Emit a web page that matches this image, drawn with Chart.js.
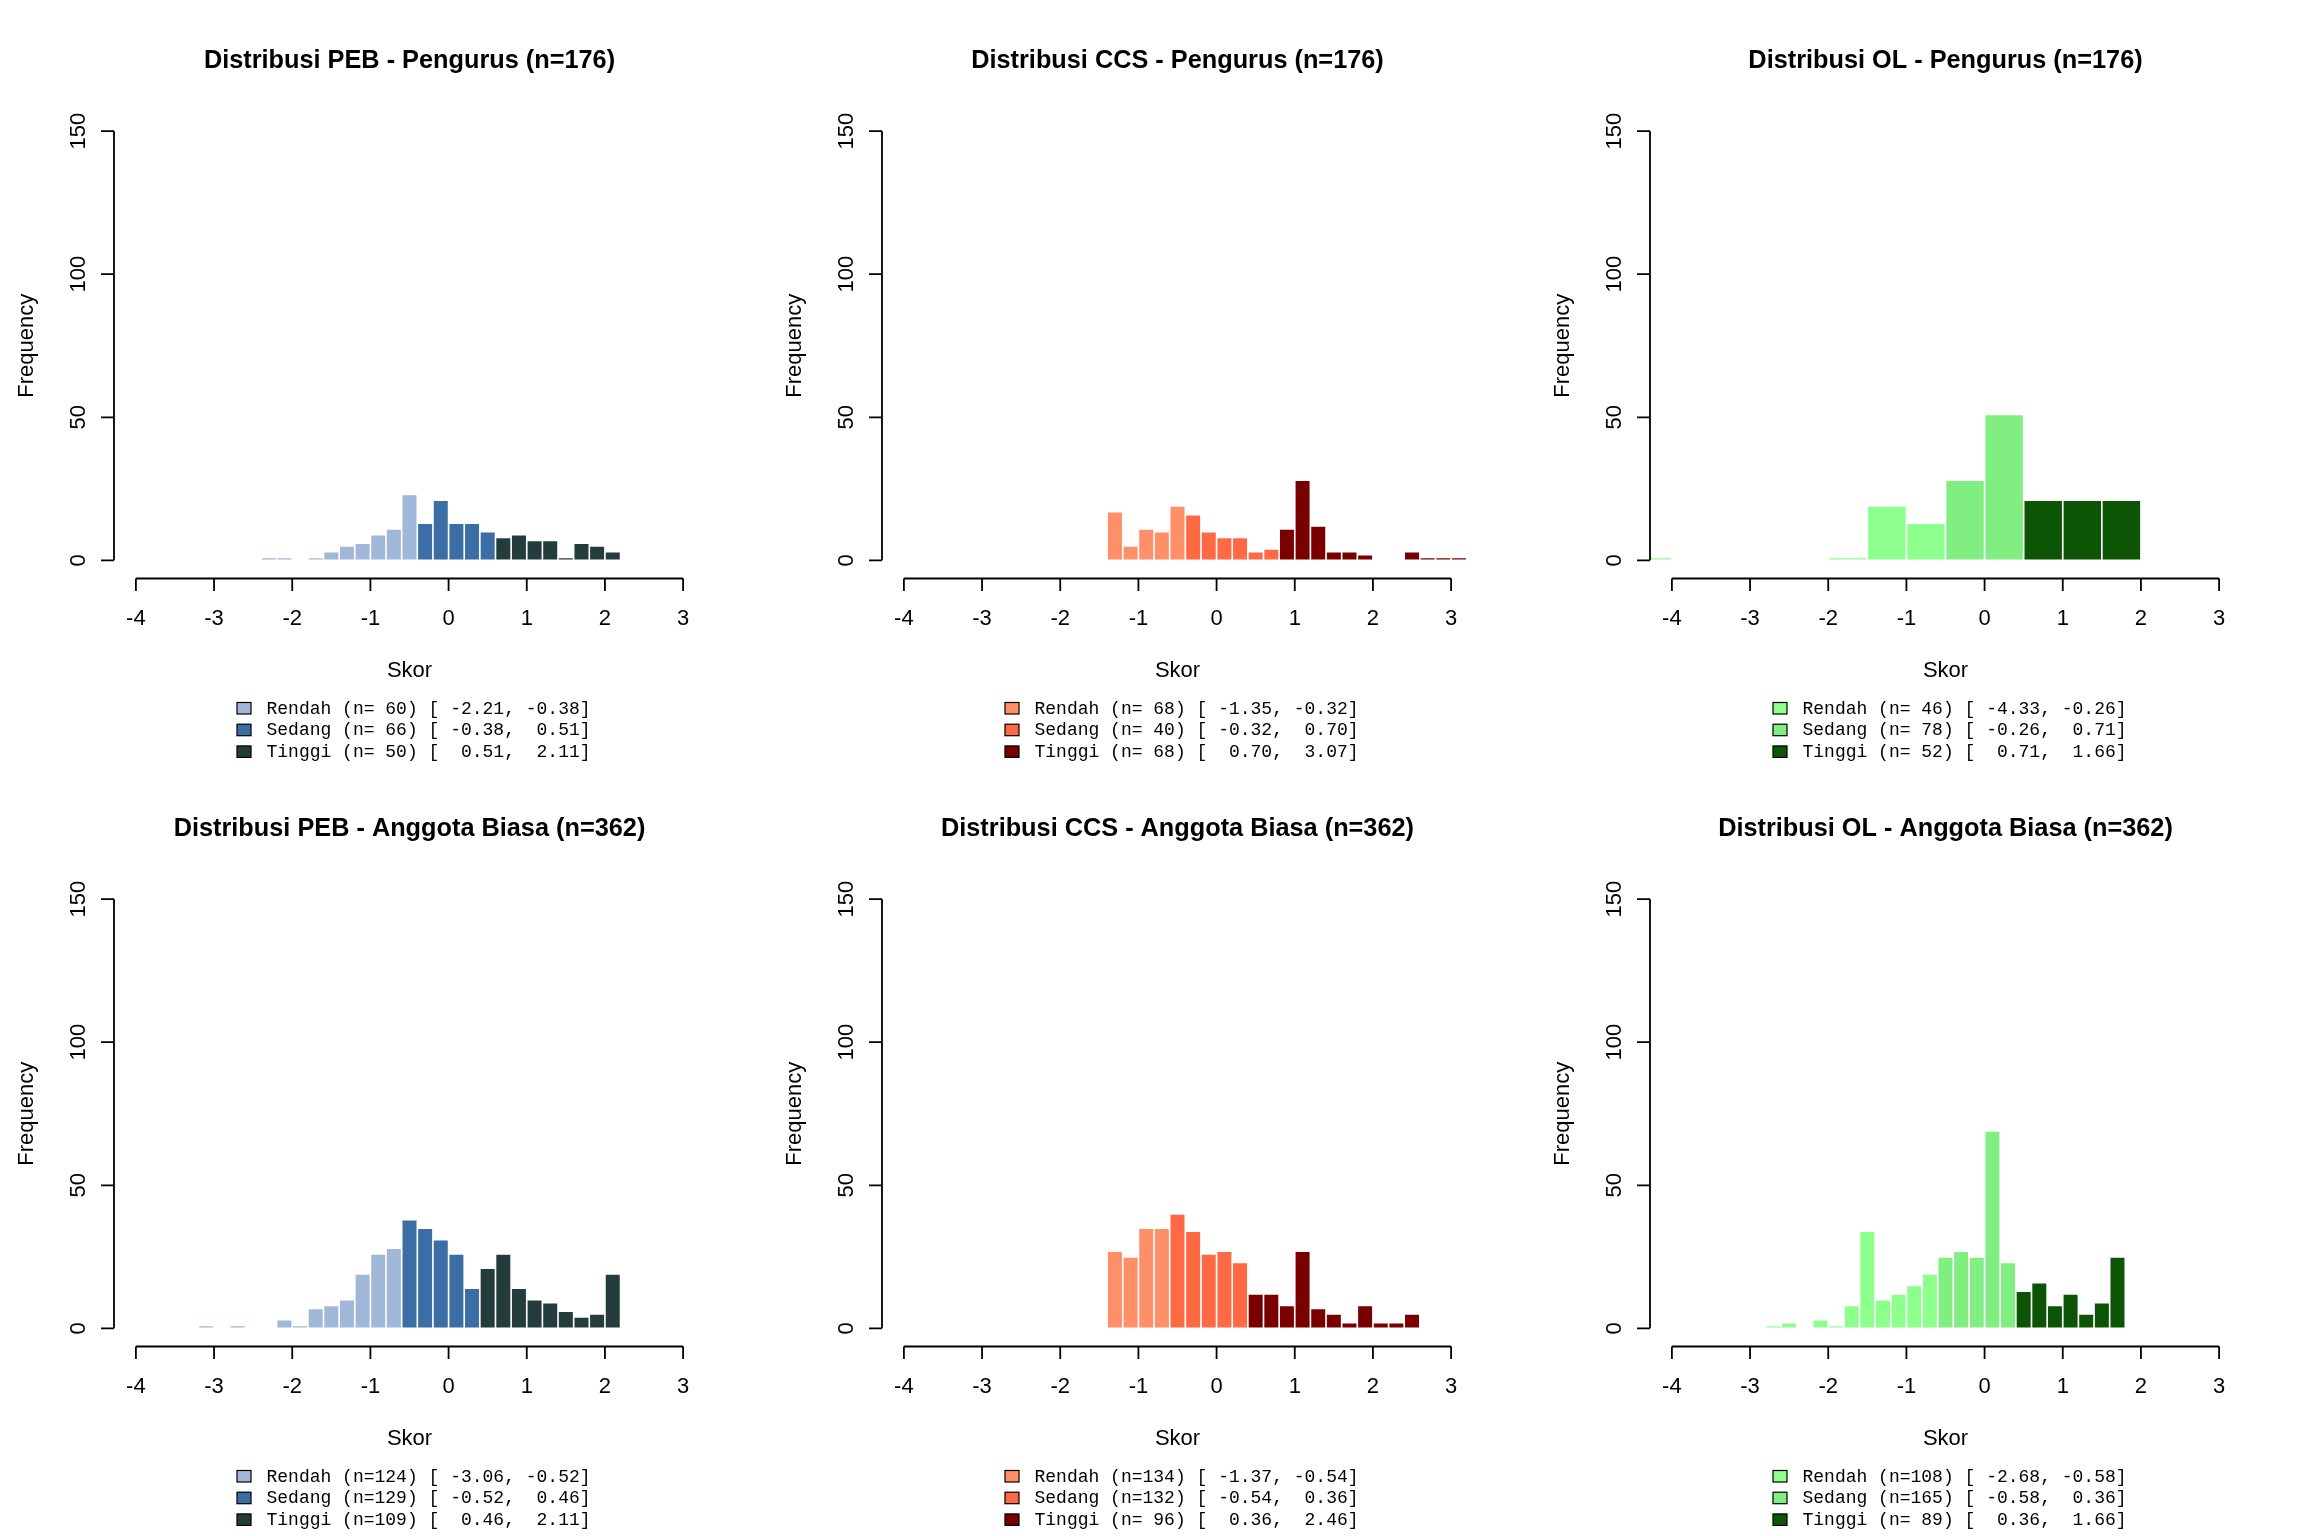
<!DOCTYPE html>
<html>
<head>
<meta charset="utf-8">
<title>Distribusi skor</title>
<script src="https://cdn.jsdelivr.net/npm/chart.js@4.4.0/dist/chart.umd.min.js"></script>
<style>
  body { margin: 0; background: #ffffff; }
  #grid { position: relative; width: 2304px; height: 1536px; }
  .panel { position: absolute; width: 768px; height: 768px; }
</style>
</head>
<body>
<div id="grid"></div>
<script>
// axis ticks
const xTicks = [-4, -3, -2, -1, 0, 1, 2, 3];
const yTicks = [0, 50, 100, 150];

// bin mids, counts and class (0 = Rendah, 1 = Sedang, 2 = Tinggi) for each panel
const pebPengurusMid = [-2.3, -2.1, -1.7, -1.5, -1.3, -1.1, -0.9, -0.7, -0.5, -0.3, -0.1, 0.1, 0.3, 0.5, 0.7, 0.9, 1.1, 1.3, 1.5, 1.7, 1.9, 2.1];
const pebPengurusFreq = [1, 1, 1, 3, 5, 6, 9, 11, 23, 13, 21, 13, 13, 10, 8, 9, 7, 7, 1, 6, 5, 3];
const pebPengurusKelas = [0, 0, 0, 0, 0, 0, 0, 0, 0, 1, 1, 1, 1, 1, 2, 2, 2, 2, 2, 2, 2, 2];

const ccsPengurusMid = [-1.3, -1.1, -0.9, -0.7, -0.5, -0.3, -0.1, 0.1, 0.3, 0.5, 0.7, 0.9, 1.1, 1.3, 1.5, 1.7, 1.9, 2.5, 2.7, 2.9, 3.1];
const ccsPengurusFreq = [17, 5, 11, 10, 19, 16, 10, 8, 8, 3, 4, 11, 28, 12, 3, 3, 2, 3, 1, 1, 1];
const ccsPengurusKelas = [0, 0, 0, 0, 0, 1, 1, 1, 1, 1, 1, 2, 2, 2, 2, 2, 2, 2, 2, 2, 2];

const olPengurusMid = [-4.25, -1.75, -1.25, -0.75, -0.25, 0.25, 0.75, 1.25, 1.75];
const olPengurusFreq = [1, 1, 19, 13, 28, 51, 21, 21, 21];
const olPengurusKelas = [0, 0, 0, 0, 1, 1, 2, 2, 2];

const pebAnggotaMid = [-3.1, -2.7, -2.1, -1.9, -1.7, -1.5, -1.3, -1.1, -0.9, -0.7, -0.5, -0.3, -0.1, 0.1, 0.3, 0.5, 0.7, 0.9, 1.1, 1.3, 1.5, 1.7, 1.9, 2.1];
const pebAnggotaFreq = [1, 1, 3, 1, 7, 8, 10, 19, 26, 28, 38, 35, 31, 26, 14, 21, 26, 14, 10, 9, 6, 4, 5, 19];
const pebAnggotaKelas = [0, 0, 0, 0, 0, 0, 0, 0, 0, 0, 1, 1, 1, 1, 1, 2, 2, 2, 2, 2, 2, 2, 2, 2];

const ccsAnggotaMid = [-1.3, -1.1, -0.9, -0.7, -0.5, -0.3, -0.1, 0.1, 0.3, 0.5, 0.7, 0.9, 1.1, 1.3, 1.5, 1.7, 1.9, 2.1, 2.3, 2.5];
const ccsAnggotaFreq = [27, 25, 35, 35, 40, 34, 26, 27, 23, 12, 12, 8, 27, 7, 5, 2, 8, 2, 2, 5];
const ccsAnggotaKelas = [0, 0, 0, 0, 1, 1, 1, 1, 1, 2, 2, 2, 2, 2, 2, 2, 2, 2, 2, 2];

const olAnggotaMid = [-2.7, -2.5, -2.1, -1.9, -1.7, -1.5, -1.3, -1.1, -0.9, -0.7, -0.5, -0.3, -0.1, 0.1, 0.3, 0.5, 0.7, 0.9, 1.1, 1.3, 1.5, 1.7];
const olAnggotaFreq = [1, 2, 3, 1, 8, 34, 10, 12, 15, 19, 25, 27, 25, 69, 23, 13, 16, 8, 12, 5, 9, 25];
const olAnggotaKelas = [0, 0, 0, 0, 0, 0, 0, 0, 0, 0, 1, 1, 1, 1, 1, 2, 2, 2, 2, 2, 2, 2];

// legend lines
const pebPengurusLegend = ["Rendah (n= 60) [ -2.21, -0.38]", "Sedang (n= 66) [ -0.38,  0.51]", "Tinggi (n= 50) [  0.51,  2.11]"];
const ccsPengurusLegend = ["Rendah (n= 68) [ -1.35, -0.32]", "Sedang (n= 40) [ -0.32,  0.70]", "Tinggi (n= 68) [  0.70,  3.07]"];
const olPengurusLegend = ["Rendah (n= 46) [ -4.33, -0.26]", "Sedang (n= 78) [ -0.26,  0.71]", "Tinggi (n= 52) [  0.71,  1.66]"];
const pebAnggotaLegend = ["Rendah (n=124) [ -3.06, -0.52]", "Sedang (n=129) [ -0.52,  0.46]", "Tinggi (n=109) [  0.46,  2.11]"];
const ccsAnggotaLegend = ["Rendah (n=134) [ -1.37, -0.54]", "Sedang (n=132) [ -0.54,  0.36]", "Tinggi (n= 96) [  0.36,  2.46]"];
const olAnggotaLegend = ["Rendah (n=108) [ -2.68, -0.58]", "Sedang (n=165) [ -0.58,  0.36]", "Tinggi (n= 89) [  0.36,  1.66]"];

const warnaPEB = ["#A0B7D7", "#3A6EA5", "#243C3C"];
const warnaCCS = ["#FF8F68", "#FF6A45", "#7A0000"];
const warnaOL = ["#8CFF8C", "#80EE80", "#0C5505"];

const panels = [
  { title: "Distribusi PEB - Pengurus (n=176)", mid: pebPengurusMid, freq: pebPengurusFreq, kelas: pebPengurusKelas, warna: warnaPEB, legend: pebPengurusLegend },
  { title: "Distribusi CCS - Pengurus (n=176)", mid: ccsPengurusMid, freq: ccsPengurusFreq, kelas: ccsPengurusKelas, warna: warnaCCS, legend: ccsPengurusLegend },
  { title: "Distribusi OL - Pengurus (n=176)", mid: olPengurusMid, freq: olPengurusFreq, kelas: olPengurusKelas, warna: warnaOL, legend: olPengurusLegend },
  { title: "Distribusi PEB - Anggota Biasa (n=362)", mid: pebAnggotaMid, freq: pebAnggotaFreq, kelas: pebAnggotaKelas, warna: warnaPEB, legend: pebAnggotaLegend },
  { title: "Distribusi CCS - Anggota Biasa (n=362)", mid: ccsAnggotaMid, freq: ccsAnggotaFreq, kelas: ccsAnggotaKelas, warna: warnaCCS, legend: ccsAnggotaLegend },
  { title: "Distribusi OL - Anggota Biasa (n=362)", mid: olAnggotaMid, freq: olAnggotaFreq, kelas: olAnggotaKelas, warna: warnaOL, legend: olAnggotaLegend }
];

const SANS = '"Liberation Sans", Arial, Helvetica, sans-serif';
const MONO = '"Liberation Mono", "Courier New", monospace';

// R style detached axes, titles and legend
const rStyle = {
  id: "rStyle",
  afterDraw(chart, args, opts) {
    const ctx = chart.ctx;
    const xs = chart.scales.x;
    const ys = chart.scales.y;
    const area = chart.chartArea;
    const cx = (area.left + area.right) / 2;
    ctx.save();
    ctx.fillStyle = "#000";
    ctx.strokeStyle = "#000";
    ctx.lineWidth = 1.8;
    ctx.textBaseline = "alphabetic";

    // title
    ctx.font = "bold 25.3px " + SANS;
    ctx.textAlign = "center";
    ctx.fillText(opts.title, cx, 67.5);

    // x axis
    const ay = area.bottom + 1;
    ctx.beginPath();
    ctx.moveTo(xs.getPixelForValue(xTicks[0]), ay);
    ctx.lineTo(xs.getPixelForValue(xTicks[xTicks.length - 1]), ay);
    xTicks.forEach(function (v) {
      const px = xs.getPixelForValue(v);
      ctx.moveTo(px, ay);
      ctx.lineTo(px, ay + 12.5);
    });
    ctx.stroke();
    ctx.font = "22px " + SANS;
    xTicks.forEach(function (v) {
      ctx.fillText(String(v), xs.getPixelForValue(v), 625);
    });
    ctx.fillText("Skor", cx, 676.5);

    // y axis
    const ax = area.left;
    ctx.beginPath();
    ctx.moveTo(ax, ys.getPixelForValue(yTicks[0]));
    ctx.lineTo(ax, ys.getPixelForValue(yTicks[yTicks.length - 1]));
    yTicks.forEach(function (v) {
      const py = ys.getPixelForValue(v);
      ctx.moveTo(ax, py);
      ctx.lineTo(ax - 13, py);
    });
    ctx.stroke();
    yTicks.forEach(function (v) {
      ctx.save();
      ctx.translate(84.5, ys.getPixelForValue(v));
      ctx.rotate(-Math.PI / 2);
      ctx.fillText(String(v), 0, 0);
      ctx.restore();
    });
    ctx.save();
    ctx.translate(33, (area.top + area.bottom) / 2);
    ctx.rotate(-Math.PI / 2);
    ctx.fillText("Frequency", 0, 0);
    ctx.restore();

    // legend
    ctx.font = "18px " + MONO;
    ctx.textAlign = "left";
    ctx.lineWidth = 1.2;
    opts.legend.forEach(function (txt, i) {
      const base = 713.5 + i * 21.7;
      ctx.fillStyle = opts.warna[i];
      ctx.fillRect(237, base - 11, 14, 11.5);
      ctx.strokeRect(237, base - 11, 14, 11.5);
      ctx.fillStyle = "#000";
      ctx.fillText(txt, 266.5, base);
    });
    ctx.restore();
  }
};

const grid = document.getElementById("grid");

panels.forEach(function (p, i) {
  const div = document.createElement("div");
  div.className = "panel";
  div.style.left = (i % 3) * 768 + "px";
  div.style.top = Math.floor(i / 3) * 768 + "px";
  const canvas = document.createElement("canvas");
  canvas.width = 768;
  canvas.height = 768;
  div.appendChild(canvas);
  grid.appendChild(div);

  new Chart(canvas, {
    type: "bar",
    data: {
      datasets: [
        {
          label: p.title,
          data: p.mid.map(function (m, j) { return { x: m, y: p.freq[j] }; }),
          backgroundColor: p.kelas.map(function (k) { return p.warna[k]; }),
          borderColor: "#ffffff",
          borderWidth: 1.15,
          borderSkipped: false,
          barPercentage: 1,
          categoryPercentage: 1,
          clip: 0
        }
      ]
    },
    options: {
      responsive: false,
      animation: false,
      devicePixelRatio: 1,
      layout: { padding: { left: 114, right: 63, top: 114, bottom: 190.5 } },
      scales: {
        x: {
          type: "linear",
          display: false,
          offset: false,
          grid: { offset: false },
          min: -4.28,
          max: 3.28,
          afterBuildTicks: function (s) { s.ticks = xTicks.map(function (v) { return { value: v }; }); }
        },
        y: {
          display: false,
          min: -6,
          max: 156,
          afterBuildTicks: function (s) { s.ticks = yTicks.map(function (v) { return { value: v }; }); }
        }
      },
      plugins: {
        legend: { display: false },
        tooltip: { enabled: false },
        rStyle: { title: p.title, legend: p.legend, warna: p.warna }
      }
    },
    plugins: [rStyle]
  });
});
</script>
</body>
</html>
